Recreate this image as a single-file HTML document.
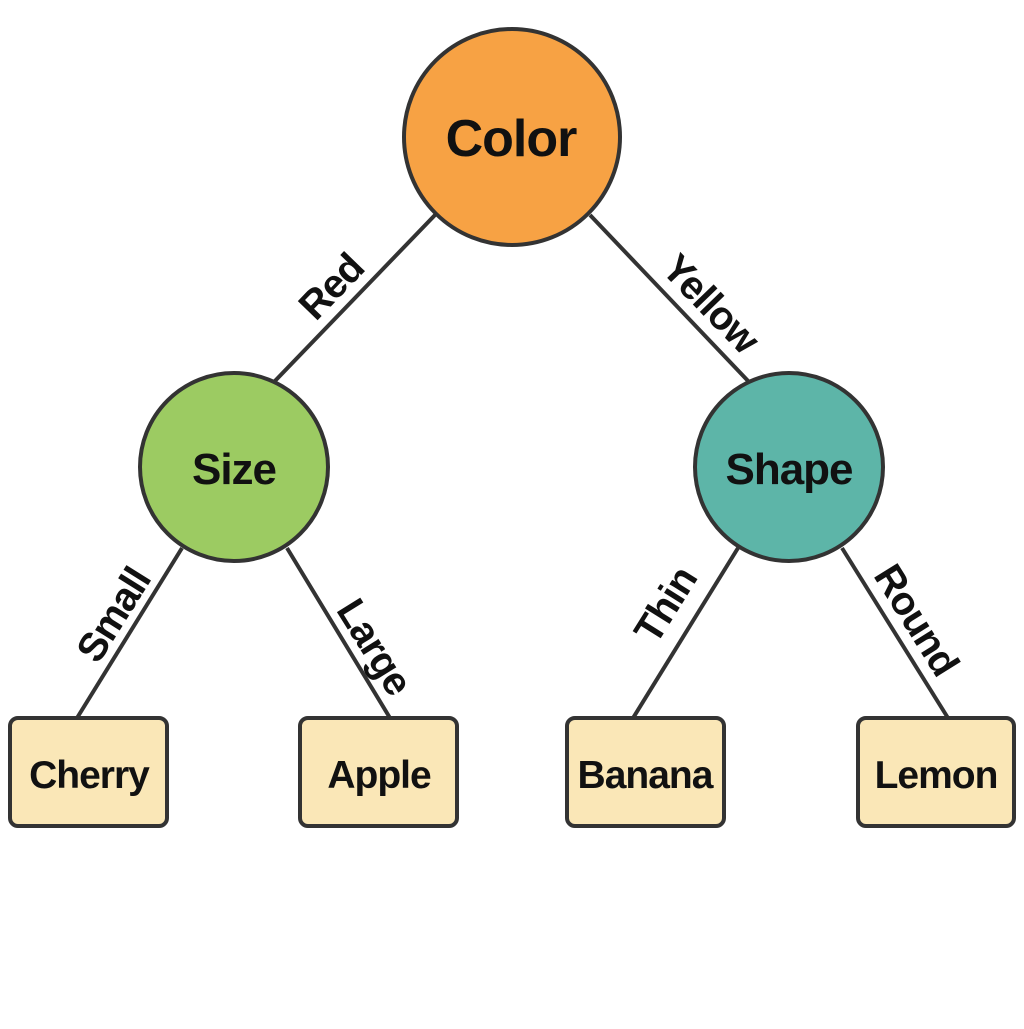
<!DOCTYPE html>
<html><head><meta charset="utf-8"><style>body{margin:0;background:#fff}</style></head><body>
<svg width="1024" height="1024" viewBox="0 0 1024 1024" xmlns="http://www.w3.org/2000/svg" font-family="Liberation Sans, sans-serif" font-weight="bold">
<g stroke="#333" stroke-width="4" fill="none">
<line x1="435" y1="215" x2="273" y2="383"/>
<line x1="590" y1="215" x2="750" y2="383"/>
<line x1="182" y1="548" x2="77" y2="718"/>
<line x1="287" y1="548" x2="390" y2="718"/>
<line x1="738" y1="548" x2="633" y2="718"/>
<line x1="842" y1="548" x2="948" y2="718"/>
</g>
<g stroke="#333" stroke-width="4">
<circle cx="512" cy="137" r="108" fill="#F7A244"/>
<circle cx="234" cy="467" r="94" fill="#9CCB62"/>
<circle cx="789" cy="467" r="94" fill="#5DB5A8"/>
<rect x="10" y="718" width="157" height="108" rx="8" fill="#FAE7B7"/>
<rect x="300" y="718" width="157" height="108" rx="8" fill="#FAE7B7"/>
<rect x="567" y="718" width="157" height="108" rx="8" fill="#FAE7B7"/>
<rect x="858" y="718" width="156" height="108" rx="8" fill="#FAE7B7"/>
</g>
<g fill="#111" text-anchor="middle" letter-spacing="-1">
<text x="511" y="156" font-size="52">Color</text>
<text x="234" y="484" font-size="44">Size</text>
<text x="789" y="484" font-size="44">Shape</text>
<text x="89" y="788" font-size="39">Cherry</text>
<text x="379" y="788" font-size="39">Apple</text>
<text x="645" y="788" font-size="39">Banana</text>
<text x="936" y="788" font-size="39">Lemon</text>
<text font-size="40" transform="translate(341,296) rotate(-46)">Red</text>
<text font-size="40" transform="translate(701,313) rotate(46)">Yellow</text>
<text font-size="40" transform="translate(125,622) rotate(-58)">Small</text>
<text font-size="40" transform="translate(363,654) rotate(58)">Large</text>
<text font-size="40" transform="translate(677,612) rotate(-58)">Thin</text>
<text font-size="40" transform="translate(905,627) rotate(58)">Round</text>
</g>
</svg>
</body></html>
